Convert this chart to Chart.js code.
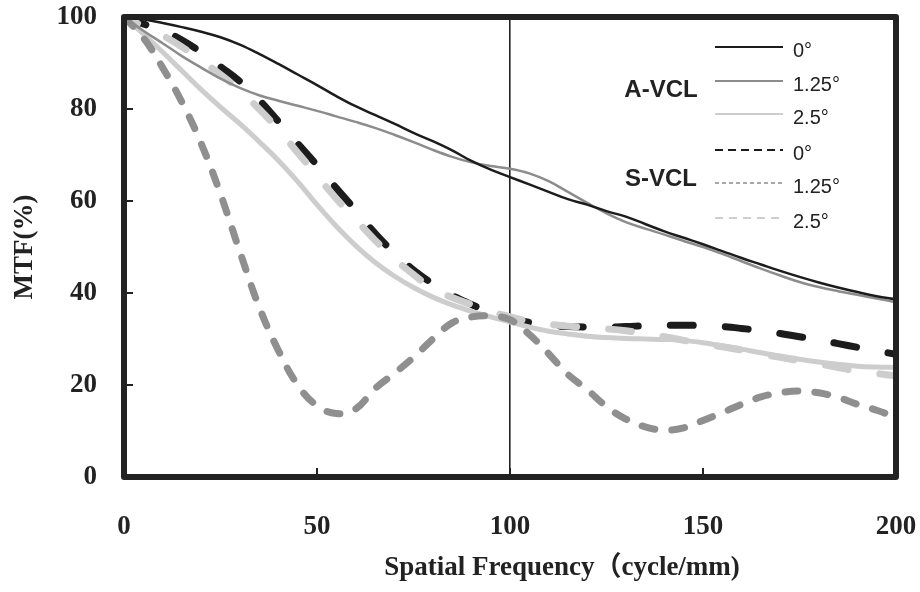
<!DOCTYPE html>
<html lang="en">
<head>
  <meta charset="UTF-8">
  <title>MTF vs Spatial Frequency</title>
  <script src="https://cdn.jsdelivr.net/npm/chart.js"></script>
  <style>
    html, body { margin: 0; padding: 0; background: #fff; }
    #wrap { width: 920px; height: 592px; }
  </style>
</head>
<body>
  <div id="wrap"><canvas id="mtfChart" width="920" height="592"></canvas></div>

  <script>
    // Spatial frequency (cycle/mm), every 5
    var freq = [0, 5, 10, 15, 20, 25, 30, 35, 40, 45, 50, 55, 60, 65, 70, 75, 80, 85, 90, 95,
                100, 105, 110, 115, 120, 125, 130, 135, 140, 145, 150, 155, 160, 165, 170, 175, 180, 185, 190, 195, 200];

    // A-VCL (solid lines)
    var aVcl0 = [100, 99.5, 98.7, 97.8, 96.8, 95.6, 94, 92, 89.8, 87.5, 85.2, 82.8, 80.6, 78.7, 76.8, 74.8, 73, 71, 68.7, 66.8,
                 65.2, 63.6, 62, 60.4, 59.2, 57.8, 56.6, 55, 53.4, 52, 50.6, 49.1, 47.6, 46.2, 44.8, 43.5, 42.3, 41.2, 40.2, 39.3, 38.6];
    var aVcl125 = [100, 97, 94.3, 91.5, 89, 86.6, 84.6, 83, 81.8, 80.7, 79.6, 78.4, 77.2, 75.9, 74.4, 72.8, 71.1, 69.6, 68.4, 67.6,
                   67, 66, 64.3, 62, 59.6, 57.3, 55.4, 54, 52.7, 51.3, 50, 48.5, 46.9, 45.3, 43.8, 42.4, 41.3, 40.4, 39.6, 38.8, 38];
    var aVcl25 = [100, 96.3, 92.4, 88.3, 84.2, 80.4, 76.8, 72.9, 68.8, 64.2, 59.2, 54.5, 50.3, 46.7, 43.7, 41.2, 39.1, 37.4, 36, 34.8,
                  33.7, 32.6, 31.7, 31.1, 30.6, 30.3, 30.1, 30, 29.9, 29.7, 29.2, 28.5, 27.8, 27, 26.3, 25.6, 25, 24.5, 24.1, 23.9, 23.8];

    // S-VCL (dashed lines)
    var sVcl0 = [100, 98.5, 97, 95, 92.3, 89.2, 86, 82, 77.3, 72.5, 67.8, 62.8, 58, 53, 48.7, 45, 42, 39.5, 37.5, 35.8,
                 34.5, 33.6, 33, 32.7, 32.6, 32.6, 32.7, 32.9, 33, 33, 32.9, 32.7, 32.3, 31.8, 31.2, 30.5, 29.8, 29, 28.2, 27.4, 26.7];
    var sVcl125 = [100, 95.5, 89, 81.5, 72.5, 61.5, 49, 37, 27.5, 20, 15.5, 13.8, 14.8, 19.2, 22.5, 26, 30, 33.5, 34.8, 35,
                   34.2, 31, 26.8, 22.3, 19, 15.3, 12.6, 10.9, 10.2, 10.7, 12.3, 14, 15.8, 17.4, 18.3, 18.7, 18.3, 17.3, 15.8, 14.5, 13];
    var sVcl25 = [100, 98, 96, 93.5, 90.5, 87.5, 84, 80, 75.5, 70.5, 65.5, 60.5, 56, 51.5, 47.5, 44, 41, 39, 37.5, 36,
                  34.8, 33.8, 33.2, 32.8, 32.5, 32.2, 31.8, 31.2, 30.5, 29.7, 29, 28.3, 27.6, 26.8, 26, 25.3, 24.6, 23.8, 23, 22.5, 22];

    var xTicks = [0, 50, 100, 150, 200];
    var yTicks = [0, 20, 40, 60, 80, 100];

    var groupNames = ['A-VCL', 'S-VCL'];
    var angleNames = ['0\u00b0', '1.25\u00b0', '2.5\u00b0'];

    var DARK = '#1c1c1c';
    var MID = '#8c8c8c';
    var LIGHT = '#cdcdcd';
    var serif = "'Liberation Serif', 'Times New Roman', 'Noto Sans CJK JP', serif";
    var sans = "'Liberation Sans', Arial, sans-serif";

    function toPoints(values) {
      return values.map(function(v, i) { return { x: freq[i], y: v }; });
    }

    // keep the plot box where the reference has it
    function noPad(axis) {
      axis.paddingLeft = 0;
      axis.paddingRight = 0;
      axis.paddingTop = 0;
      axis.paddingBottom = 0;
    }

    // frame, inner ticks, axis titles and the legend box
    var decorPlugin = {
      id: 'decor',
      afterDatasetsDraw: function(chart) {
        var ctx = chart.ctx;
        var a = chart.chartArea;
        var xs = chart.scales.x, ys = chart.scales.y;
        ctx.save();

        // thick frame
        ctx.strokeStyle = '#222';
        ctx.lineWidth = 6;
        ctx.lineJoin = 'round';
        ctx.strokeRect(a.left, a.top, a.right - a.left, a.bottom - a.top);

        // inner ticks
        ctx.lineWidth = 2;
        yTicks.forEach(function(v) {
          if (v === 0 || v === 100) return;
          var y = ys.getPixelForValue(v);
          ctx.beginPath(); ctx.moveTo(a.left, y); ctx.lineTo(a.left + 9, y); ctx.stroke();
        });
        xTicks.forEach(function(v) {
          if (v === 0 || v === 200) return;
          var x = xs.getPixelForValue(v);
          ctx.beginPath(); ctx.moveTo(x, a.bottom); ctx.lineTo(x, a.bottom - 9); ctx.stroke();
        });

        // axis titles
        ctx.fillStyle = '#222';
        ctx.textAlign = 'center';
        ctx.textBaseline = 'middle';
        ctx.font = 'bold 27px ' + serif;
        ctx.fillText('Spatial Frequency\uff08cycle/mm)', 562, 568);
        ctx.save();
        ctx.translate(25, (a.top + a.bottom) / 2);
        ctx.rotate(-Math.PI / 2);
        ctx.fillText('MTF(%)', 0, 0);
        ctx.restore();

        // legend
        var rows = [47, 81, 114, 150, 183, 218];
        var styles = [
          { c: DARK, w: 2.2, d: [] },
          { c: MID, w: 2.2, d: [] },
          { c: LIGHT, w: 1.8, d: [] },
          { c: DARK, w: 2, d: [8, 5] },
          { c: MID, w: 1.6, d: [4, 3] },
          { c: LIGHT, w: 1.8, d: [8, 6] }
        ];
        ctx.lineCap = 'butt';
        rows.forEach(function(y, i) {
          var s = styles[i];
          ctx.strokeStyle = s.c;
          ctx.lineWidth = s.w;
          ctx.setLineDash(s.d);
          ctx.beginPath(); ctx.moveTo(715, y); ctx.lineTo(783, y); ctx.stroke();
        });
        ctx.setLineDash([]);
        ctx.textAlign = 'left';
        ctx.font = '20px ' + sans;
        rows.forEach(function(y, i) {
          ctx.fillText(angleNames[i % 3], 793, y + 4);
        });
        ctx.textAlign = 'center';
        ctx.font = 'bold 24px ' + sans;
        ctx.fillText(groupNames[0], 661, 90);
        ctx.fillText(groupNames[1], 661, 179);

        ctx.restore();
      }
    };

    var ctx = document.getElementById('mtfChart').getContext('2d');
    new Chart(ctx, {
      type: 'line',
      data: {
        datasets: [
          { label: 'A-VCL 0\u00b0', data: toPoints(aVcl0), borderColor: DARK, borderWidth: 2.5, order: 0 },
          { label: 'A-VCL 1.25\u00b0', data: toPoints(aVcl125), borderColor: MID, borderWidth: 2.5, order: 1 },
          { label: 'A-VCL 2.5\u00b0', data: toPoints(aVcl25), borderColor: LIGHT, borderWidth: 5, order: 3 },
          { label: 'S-VCL 0\u00b0', data: toPoints(sVcl0), borderColor: DARK, borderWidth: 7,
            borderDash: [23, 32], borderCapStyle: 'round', order: 5 },
          { label: 'S-VCL 1.25\u00b0', data: toPoints(sVcl125), borderColor: '#8f8f8f', borderWidth: 7,
            borderDash: [13, 17], borderCapStyle: 'round', order: 2 },
          { label: 'S-VCL 2.5\u00b0', data: toPoints(sVcl25), borderColor: LIGHT, borderWidth: 7,
            borderDash: [23, 32], borderDashOffset: 8, borderCapStyle: 'round', order: 4 }
        ]
      },
      options: {
        responsive: false,
        animation: false,
        devicePixelRatio: 1,
        layout: { padding: { top: 17, right: 24, left: 0, bottom: 0 } },
        elements: {
          point: { radius: 0 },
          line: { tension: 0.4, fill: false }
        },
        plugins: {
          legend: { display: false },
          tooltip: { enabled: false }
        },
        scales: {
          x: {
            type: 'linear',
            min: 0,
            max: 200,
            afterBuildTicks: function(axis) { axis.ticks = xTicks.map(function(v) { return { value: v }; }); },
            afterFit: function(axis) { axis.height = 115; noPad(axis); },
            ticks: { color: '#222', padding: 34, font: { family: serif, size: 27, weight: 'bold' } },
            grid: {
              drawTicks: false,
              color: function(c) { return c.tick && c.tick.value === 100 ? '#222' : 'rgba(0,0,0,0)'; },
              lineWidth: 1.6
            },
            border: { display: false }
          },
          y: {
            min: 0,
            max: 100,
            afterBuildTicks: function(axis) { axis.ticks = yTicks.map(function(v) { return { value: v }; }); },
            afterFit: function(axis) { axis.width = 124; noPad(axis); },
            ticks: { color: '#222', padding: 27, font: { family: serif, size: 27, weight: 'bold' } },
            grid: { display: false, drawTicks: false },
            border: { display: false }
          }
        }
      },
      plugins: [decorPlugin]
    });
  </script>
</body>
</html>
